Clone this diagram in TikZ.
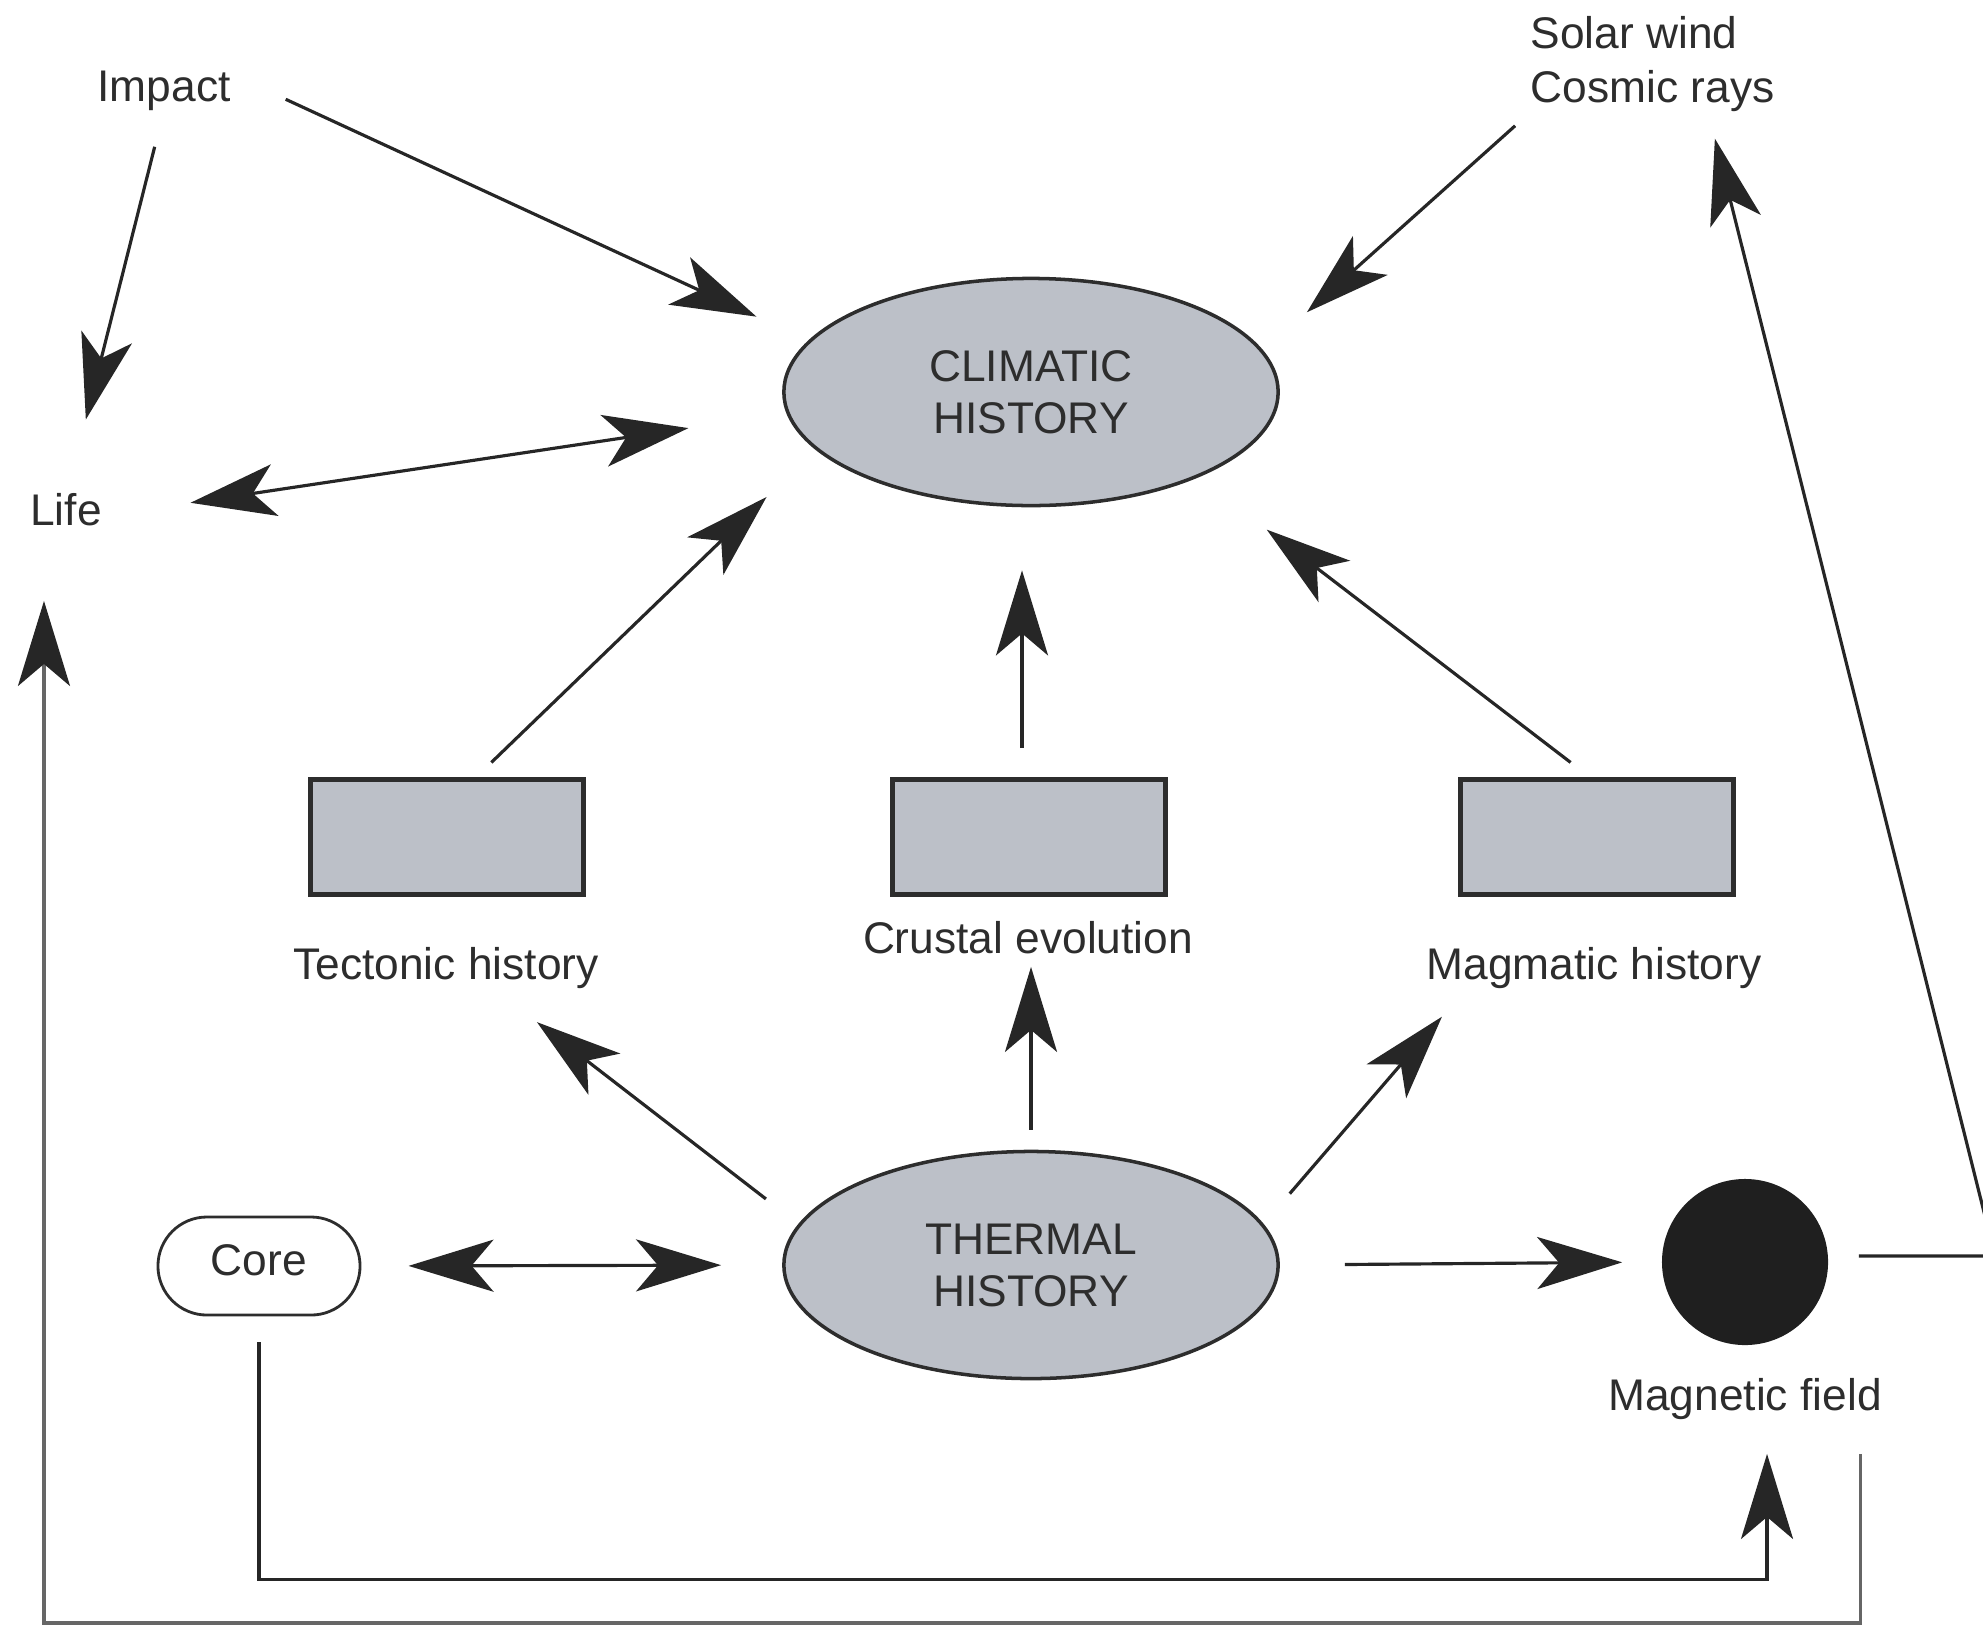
\documentclass[tikz,border=0pt]{standalone}
\usepackage{fontspec}
\setmainfont{Liberation Sans}
\usetikzlibrary{arrows.meta,shapes.geometric}

\definecolor{boxgray}{RGB}{188,192,200}
\definecolor{inkgray}{RGB}{45,45,45}

\tikzset{
  head/.tip={Stealth[length=0.85cm,width=0.52cm,inset=0.22cm]},
  darkhead/.tip={Stealth[length=0.85cm,width=0.52cm,inset=0.22cm,color=black!85]},
  lbl/.style={font=\fontsize{12.6}{15}\selectfont, text=inkgray, inner sep=0pt,
    text height=1.45ex, text depth=0.4ex},
  note/.style={font=\fontsize{12.6}{15.4}\selectfont, text=inkgray, inner sep=0pt, align=left},
  hist/.style={ellipse, draw=inkgray, line width=1pt, fill=boxgray, align=center,
    minimum width=4.94cm, minimum height=2.27cm, text=inkgray,
    font=\fontsize{12.6}{14.8}\selectfont},
  stage/.style={rectangle, draw=inkgray, line width=1.4pt, fill=boxgray,
    minimum width=2.72cm, minimum height=1.15cm},
  arr/.style={-head, line width=0.9pt, draw=black!85},
  darr/.style={head-head, line width=0.9pt, draw=black!85},
  loopline/.style={-darkhead, line width=0.9pt, draw=black!60},
}

\begin{document}
\begin{tikzpicture}[x=0.01cm, y=-0.01cm]
\useasboundingbox (0,0) rectangle (1983,1633);
\clip (0,0) rectangle (1983,1633);

% the two histories
\node[hist] (climatic) at (1031,392) {CLIMATIC\\HISTORY};
\node[hist] (thermal) at (1031,1265) {THERMAL\\HISTORY};

% middle row
\node[stage] (tect) at (447,837) {};
\node[stage] (crust) at (1029,837) {};
\node[stage] (magm) at (1597,837) {};
\node[lbl] (tectlbl) at (446,970) {Tectonic history};
\node[lbl] (crustlbl) at (1028,944) {Crustal evolution};
\node[lbl] (magmlbl) at (1594,970) {Magmatic history};

% bottom row
\node[lbl, draw=inkgray, line width=0.8pt, rounded corners=0.49cm,
  minimum width=2.02cm, minimum height=0.98cm] (core) at (259,1266) {Core};
\node[circle, fill=black!88, minimum size=1.66cm, inner sep=0pt] (magnet) at (1745,1262) {};
\node[lbl] (maglbl) at (1745,1401) {Magnetic field};

% outside influences
\node[lbl] (life) at (66,516) {Life};
\node[lbl] (impact) at (164,92) {Impact};
\node[note, anchor=west] (solar) at (1530,64) {Solar wind\\Cosmic rays};
\coordinate (rim) at (1995,1256);

% arrows into climatic history
\draw[arr, shorten <=0.6cm, shorten >=0.57cm] (impact.north east) -- (climatic.167);
\draw[arr, shorten <=0.38cm, shorten >=0.81cm] (impact.south) -- (life.north);
\draw[darr, shorten <=0.89cm, shorten >=0.99cm] (life.east) -- (climatic.185);
\draw[arr, shorten <=0.2cm, shorten >=0.58cm] (solar.south west) -- (climatic.10);
\draw[arr, shorten <=0.21cm, shorten >=0.68cm] (tect.64) -- (climatic.195);
\draw[arr, shorten <=0.29cm, shorten >=0.63cm] ([xshift=-0.07cm]crust.north) -- ([xshift=-0.07cm]crust.north |- climatic.south);
\draw[arr, shorten <=0.24cm, shorten >=0.86cm] (magm.97) -- (climatic.333);

% arrows out of thermal history
\draw[arr, shorten <=0.41cm, shorten >=0.56cm] (thermal.170) -- (tectlbl.-21);
\draw[arr, shorten <=0.2cm, shorten >=0.05cm] (thermal.north) -- (thermal.north |- crustlbl.south);
\draw[arr, shorten <=0.4cm, shorten >=0.38cm] (thermal.10) -- (magmlbl.188);
\draw[darr, shorten <=0.47cm, shorten >=0.61cm] (core.east) -- (thermal.west);
\draw[arr, shorten <=0.65cm, shorten >=0.39cm] (thermal.east) -- (magnet.west);

% magnetic field feedbacks
\draw[arr, shorten <=0.3cm, shorten >=0.27cm] (magnet.east |- rim) -- (rim) -- (solar.-41);
\draw[loopline, shorten >=0.67cm] ([xshift=-0.22cm,yshift=-0.35cm]maglbl.south east) -- ++(0,169) -| ([xshift=-0.22cm]life.south);
\draw[arr, shorten <=0.26cm, shorten >=0.35cm] (core.south) -- ++(0,263) -| ([xshift=0.22cm]maglbl.south);

\end{tikzpicture}
\end{document}
